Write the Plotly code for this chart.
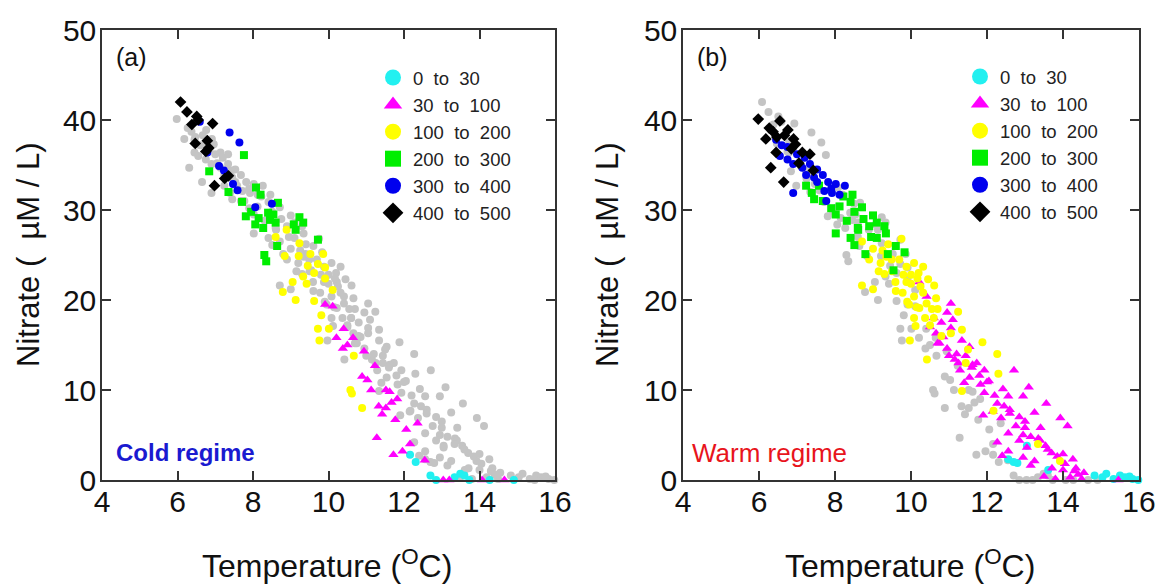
import plotly.graph_objects as go

# ---------------- data (Temperature °C, Nitrate µM/L) ----------------
# Cold regime, panel (a)
cold_0_30_T = [12.16, 12.31, 12.70, 12.85, 13.34, 13.49, 13.60, 13.73, 14.27, 14.91]
cold_0_30_N = [2.8, 2.0, 0.5, 0.0, 0.3, 0.7, 0.5, 0.0, 0.0, 0.0]

cold_30_100_T = [9.91, 10.11, 10.40, 10.21, 10.38, 10.65, 10.50, 10.94, 11.23, 10.89, 11.03,
                 11.13, 11.52, 11.62, 11.33, 11.52, 11.67, 11.82, 11.42, 11.77, 12.36, 12.06,
                 11.28, 12.16, 11.72, 11.96, 12.55, 13.04, 13.20, 14.07, 14.66]
cold_30_100_N = [19.5, 19.3, 16.8, 15.8, 14.6, 15.8, 15.0, 14.3, 12.7, 11.5, 11.1,
                 10.0, 10.0, 9.8, 8.2, 8.0, 8.6, 9.0, 7.3, 6.7, 6.3, 5.6,
                 4.7, 4.0, 2.8, 3.2, 2.2, 0.0, 0.0, 0.0, 0.0]

cold_100_200_T = [8.60, 8.89, 8.84, 9.23, 9.21, 9.52, 9.86, 9.72, 9.91, 9.62, 9.33, 9.42,
                  9.91, 10.11, 8.79, 9.13, 9.62, 9.81, 9.72, 9.76, 10.01, 10.67, 10.58,
                  10.62, 10.89, 9.45, 9.05]
cold_100_200_N = [27.0, 27.8, 24.9, 26.3, 24.9, 25.1, 25.1, 24.0, 23.6, 23.0, 22.6, 21.8,
                  22.4, 21.1, 20.9, 20.0, 19.9, 18.3, 16.8, 15.5, 16.8, 13.8, 10.0,
                  9.6, 8.0, 23.8, 22.0]

cold_200_300_T = [7.76, 6.84, 7.35, 8.08, 8.20, 7.71, 7.81, 8.15, 8.40, 8.54, 8.06, 8.27,
                  8.60, 9.23, 9.33, 9.08, 9.13, 9.72, 8.64, 8.30, 8.35, 8.66, 7.95, 8.45]
cold_200_300_N = [36.1, 34.3, 32.0, 32.5, 31.7, 30.9, 29.3, 29.1, 29.7, 29.5, 28.4, 28.0,
                  28.6, 29.2, 28.6, 28.4, 27.8, 26.7, 26.0, 25.0, 24.3, 30.8, 29.8, 28.9]

cold_300_400_T = [6.59, 7.38, 7.64, 6.79, 7.10, 7.23, 7.47, 7.59, 8.06, 8.50]
cold_300_400_N = [39.8, 38.6, 37.5, 36.4, 34.9, 34.4, 32.9, 32.2, 30.3, 30.7]

cold_400_500_T = [6.08, 6.25, 6.51, 6.38, 6.93, 6.47, 6.79, 6.83, 7.25, 7.35, 6.98, 6.55, 6.75]
cold_400_500_N = [42.0, 40.9, 40.4, 39.5, 39.6, 37.4, 37.7, 36.9, 33.5, 33.8, 32.7, 40.0, 36.5]

# Warm regime, panel (b)
warm_0_30_T = [12.56, 12.80, 13.05, 13.61, 14.83, 15.04, 15.14, 15.33, 15.63, 15.83, 15.98,
               12.70, 15.50, 15.75]
warm_0_30_N = [2.3, 1.9, 3.8, 1.1, 0.5, 0.3, 0.7, 0.1, 0.3, 0.1, 0.0,
               2.0, 0.5, 0.4]

warm_30_100_T = [10.22, 10.41, 11.05, 10.80, 10.66, 10.85, 11.05, 10.95, 11.34, 11.54, 11.44,
                 11.15, 11.73, 11.93, 11.29, 11.54, 11.83, 12.71, 11.93, 12.42, 13.10, 12.56,
                 12.27, 12.95, 13.56, 12.37, 12.76, 13.25, 13.93, 14.12, 13.41, 12.56, 12.95,
                 12.27, 13.05, 13.54, 12.56, 12.95, 13.25, 14.26, 13.71, 14.00, 14.34, 13.80,
                 14.19, 14.49, 15.46, 10.60, 10.95, 11.20, 11.62, 11.40, 12.05, 12.15, 12.60,
                 13.00, 13.35, 13.70, 14.05, 14.40, 12.85, 13.15, 11.10, 10.75,
                 10.50, 10.70, 11.00, 11.25, 11.60, 11.80, 12.00, 12.20, 12.45, 12.60, 12.85,
                 13.00, 13.15, 13.40, 13.60, 13.85, 14.00, 14.30, 14.55, 13.50, 12.40, 11.90]
warm_30_100_N = [22.0, 20.4, 19.6, 17.5, 16.3, 15.9, 16.9, 14.6, 15.5, 14.8, 13.8,
                 13.4, 13.0, 12.2, 12.2, 11.4, 10.6, 12.2, 9.7, 10.1, 10.3, 9.3,
                 8.5, 9.3, 8.5, 6.9, 6.0, 7.5, 6.9, 6.0, 5.8, 5.2, 5.0,
                 4.2, 3.6, 3.8, 3.2, 2.5, 2.1, 2.3, 1.3, 1.1, 1.3, 0.1,
                 0.3, 0.1, 0.0, 18.0, 18.6, 14.0, 12.8, 10.8, 11.0, 7.6, 7.8,
                 6.5, 4.6, 3.0, 1.8, 0.6, 4.4, 1.6, 17.8, 15.2,
                 17.0, 15.2, 13.8, 13.0, 12.5, 11.6, 10.9, 9.4, 8.2, 7.4, 7.0,
                 5.8, 4.8, 4.4, 3.4, 2.6, 2.9, 1.0, 0.8, 0.4, 2.7, 7.2]

warm_100_200_T = [8.71, 9.00, 8.90, 9.20, 9.49, 9.69, 9.88, 10.08, 10.32, 9.30, 9.59, 9.88,
                  10.17, 10.61, 8.71, 9.00, 9.78, 10.08, 10.32, 10.66, 10.22, 10.41, 10.08,
                  10.37, 11.24, 10.12, 11.34, 9.97, 10.42, 11.88, 12.27, 11.34, 12.17, 13.34,
                  13.92, 11.44, 11.05, 9.40, 9.75, 10.00, 10.25, 10.55, 9.60, 10.50, 10.80,
                  9.15, 9.95, 11.50, 12.30,
                  9.25, 9.50, 9.80, 10.00, 10.45, 10.70, 9.90, 10.15, 10.60, 10.20, 9.35]
warm_100_200_N = [26.5, 25.7, 24.5, 24.1, 24.5, 24.5, 23.7, 24.1, 23.7, 22.9, 22.0, 22.0,
                  22.4, 21.6, 21.6, 21.2, 20.8, 20.4, 20.8, 20.2, 19.1, 19.6, 18.0,
                  18.0, 18.7, 17.1, 16.7, 15.5, 13.4, 15.3, 14.0, 9.9, 7.7, 4.0,
                  2.1, 13.0, 16.3, 26.2, 26.8, 22.8, 21.5, 19.0, 21.0, 17.2, 16.0,
                  23.2, 19.5, 14.5, 11.8,
                  25.5, 23.2, 22.8, 21.8, 22.3, 19.0, 19.8, 19.2, 18.0, 23.0, 24.8]

warm_200_300_T = [7.24, 7.58, 7.39, 7.68, 8.22, 8.46, 8.41, 8.12, 8.71, 8.51, 8.02, 8.31,
                  8.75, 9.00, 9.10, 8.90, 8.61, 8.02, 8.41, 9.30, 9.34, 9.10, 8.51, 8.80,
                  9.39, 9.83, 9.54, 7.90, 8.60, 8.95, 9.60, 7.45]
warm_200_300_N = [32.7, 32.7, 31.9, 31.0, 31.5, 31.7, 30.9, 30.4, 30.3, 29.8, 29.5, 28.8,
                  29.0, 29.4, 28.6, 28.2, 27.8, 27.4, 26.9, 28.2, 27.4, 26.9, 26.1, 25.1,
                  25.1, 25.3, 23.3, 30.2, 28.0, 27.0, 26.0, 31.2]

warm_300_400_T = [6.60, 6.75, 6.55, 6.75, 6.90, 7.14, 7.34, 7.53, 7.68, 7.24, 7.53, 7.82,
                  8.02, 8.26, 7.72, 7.92, 8.12, 6.90, 7.77, 6.45, 7.00, 7.20, 7.45, 7.90]
warm_300_400_N = [37.2, 37.0, 36.0, 35.6, 35.1, 34.7, 35.1, 34.5, 33.9, 33.9, 33.1, 33.1,
                  32.9, 32.7, 32.1, 31.9, 31.7, 31.9, 31.0, 37.8, 36.2, 35.8, 33.6, 32.4]

warm_400_500_T = [5.98, 6.27, 6.37, 6.55, 6.18, 6.47, 6.67, 6.76, 6.91, 6.96, 6.45, 7.14,
                  7.34, 7.05, 6.31, 6.65, 7.43, 6.85]
warm_400_500_N = [40.1, 39.1, 38.7, 39.9, 37.9, 38.1, 38.3, 38.9, 37.9, 37.3, 36.4, 36.4,
                  36.2, 35.2, 34.7, 33.1, 34.4, 36.8]

depth_labels = ["0  to  30", "30  to  100", "100  to  200", "200  to  300", "300  to  400", "400  to  500"]
colors = ["#22f0f0", "#ff00ff", "#ffff00", "#00ee00", "#0000ee", "#000000"]
symbols = ["circle", "triangle-up", "circle", "square", "circle", "diamond"]
gray = "#c4c4c4"

x_ticks = [4, 6, 8, 10, 12, 14, 16]
y_ticks = [0, 10, 20, 30, 40, 50]

cold_T = [cold_0_30_T, cold_30_100_T, cold_100_200_T, cold_200_300_T, cold_300_400_T, cold_400_500_T]
cold_N = [cold_0_30_N, cold_30_100_N, cold_100_200_N, cold_200_300_N, cold_300_400_N, cold_400_500_N]
warm_T = [warm_0_30_T, warm_30_100_T, warm_100_200_T, warm_200_300_T, warm_300_400_T, warm_400_500_T]
warm_N = [warm_0_30_N, warm_30_100_N, warm_100_200_N, warm_200_300_N, warm_300_400_N, warm_400_500_N]

FONT = "Arial, Liberation Sans, sans-serif"
W, H = 1158, 588

fig = go.Figure()

panels = [
    ("x", "y", cold_T, cold_N, warm_T, warm_N, "legend"),
    ("x2", "y2", warm_T, warm_N, cold_T, cold_N, "legend2"),
]

for xa, ya, cT, cN, bT, bN, leg in panels:
    # gray background: the other regime's samples
    gx = [v for arr in bT for v in arr]
    gy = [v for arr in bN for v in arr]
    fig.add_trace(go.Scatter(x=gx, y=gy, mode="markers", xaxis=xa, yaxis=ya,
                             marker=dict(color=gray, size=8, symbol="circle", line=dict(width=0)),
                             showlegend=False, cliponaxis=False, hoverinfo="skip"))
    for i in range(6):
        sz = 9 if symbols[i] in ("triangle-up", "diamond") else 8
        fig.add_trace(go.Scatter(x=cT[i], y=cN[i], mode="markers", xaxis=xa, yaxis=ya,
                                 marker=dict(color=colors[i], size=sz, symbol=symbols[i], line=dict(width=0)),
                                 showlegend=False, cliponaxis=False))
    # legend entries (large markers)
    for i in range(6):
        fig.add_trace(go.Scatter(x=[None], y=[None], mode="markers", xaxis=xa, yaxis=ya,
                                 marker=dict(color=colors[i], size=16, symbol=symbols[i], line=dict(width=0)),
                                 name=depth_labels[i].replace(" ", "\u00a0"), legend=leg,
                                 legendgroup=leg + str(i), showlegend=True))


def px_x(p):
    return p / W


def px_y(p):
    return 1 - p / H


axis_common = dict(showline=True, linecolor="#333333", linewidth=1.5, mirror="ticks",
                   ticks="inside", ticklen=9, tickwidth=1.5, tickcolor="#333333",
                   showgrid=False, zeroline=False, automargin=False,
                   tickfont=dict(family=FONT, size=30, color="#111111"))

ydom = [px_y(480), px_y(30)]
fig.update_layout(
    template="none",
    width=W, height=H,
    margin=dict(l=0, r=0, t=0, b=0, pad=0, autoexpand=False),
    paper_bgcolor="white", plot_bgcolor="white",
    xaxis=dict(axis_common, range=[4, 16], tickvals=x_ticks, domain=[px_x(102), px_x(555)],
               anchor="y", ticklabelstandoff=-6),
    yaxis=dict(axis_common, range=[0, 50], tickvals=y_ticks, domain=ydom, anchor="x",
               ticklabelstandoff=-2),
    xaxis2=dict(axis_common, range=[4, 16], tickvals=x_ticks, domain=[px_x(683), px_x(1139)],
                anchor="y2", ticklabelstandoff=-6),
    yaxis2=dict(axis_common, range=[0, 50], tickvals=y_ticks, domain=ydom, anchor="x2",
                ticklabelstandoff=-2),
    legend=dict(x=px_x(373), y=px_y(59), xanchor="left", yanchor="top",
                font=dict(family=FONT, size=18.5, color="#222222"), bgcolor="rgba(0,0,0,0)",
                borderwidth=0, tracegroupgap=0, itemsizing="trace"),
    legend2=dict(x=px_x(960), y=px_y(58), xanchor="left", yanchor="top",
                 font=dict(family=FONT, size=18.5, color="#222222"), bgcolor="rgba(0,0,0,0)",
                 borderwidth=0, tracegroupgap=0, itemsizing="trace"),
    showlegend=True,
)

ann = [
    dict(text="(a)", x=px_x(131), y=px_y(57), font=dict(size=25, color="#111111")),
    dict(text="(b)", x=px_x(712), y=px_y(57), font=dict(size=25, color="#111111")),
    dict(text="<b>Cold regime</b>", x=px_x(114), y=px_y(452), xanchor="left",
         font=dict(size=24, color="#1a1ad0")),
    dict(text="Warm regime", x=px_x(690), y=px_y(453), xanchor="left",
         font=dict(size=26, color="#e8141c")),
    dict(text="Temperature (<sup>O</sup>C)", x=px_x(327), y=px_y(564),
         font=dict(size=32, color="#111111")),
    dict(text="Temperature (<sup>O</sup>C)", x=px_x(910), y=px_y(564),
         font=dict(size=32, color="#111111")),
    dict(text="Nitrate (\u00a0\u00a0\u00b5M / L)", x=px_x(28), y=px_y(255), textangle=-90,
         font=dict(size=31, color="#111111")),
    dict(text="Nitrate (\u00a0\u00a0\u00b5M / L)", x=px_x(607), y=px_y(255), textangle=-90,
         font=dict(size=31, color="#111111")),
]
for a in ann:
    a.setdefault("xanchor", "center")
    a["xref"] = "paper"
    a["yref"] = "paper"
    a["showarrow"] = False
    a["yanchor"] = "middle"
    a["font"]["family"] = FONT
fig.update_layout(annotations=ann)

fig.write_html("out.html")
